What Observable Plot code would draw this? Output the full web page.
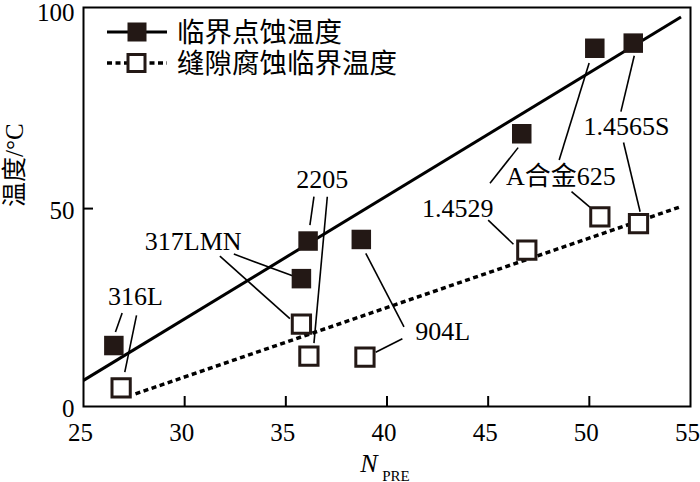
<!DOCTYPE html>
<html><head><meta charset="utf-8">
<script src="https://cdn.jsdelivr.net/npm/d3@7"></script>
<script src="https://cdn.jsdelivr.net/npm/@observablehq/plot@0.6"></script>
<style>body{margin:0;background:#fff} svg{display:block}</style>
</head><body><div id="chart"></div>
<script>
// ---- data ----
const alloys = ["316L","317LMN","2205","904L","1.4529","A合金625","1.4565S"];
const cptX = [26.5, 35.77, 36.1, 38.73, 46.66, 50.27, 52.17];
const cptY = [15.4, 32.3, 41.8, 42.2, 68.9, 90.5, 91.8];
const cctX = [26.86, 35.77, 36.14, 38.91, 46.91, 50.52, 52.43];
const cctY = [4.7, 20.8, 12.7, 12.5, 39.5, 47.9, 46.2];
const cptFitX = [25, 54.53];
const cptFitY = [6.6, 98.4];
const cctFitX = [27.57, 54.53];
const cctFitY = [3.2, 50.5];
const seriesNames = ["临界点蚀温度", "缝隙腐蚀临界温度"];
const labelX = [27.57, 30.42, 36.8, 42.75, 43.5, 48.59, 51.84];
const labelY = [27.7, 41.6, 57.2, 19.0, 50.0, 58.1, 70.7];
// leader lines: [x1, y1, x2, y2]
const leaderX1 = [26.91, 27.62, 32.43, 31.74, 36.39, 37.05, 40.76, 40.84, 45.09, 45.0, 48.51, 49.12, 51.56, 51.69];
const leaderY1 = [23.6, 23.0, 38.5, 38.0, 53.0, 53.0, 17.1, 20.1, 56.4, 47.1, 62.3, 54.3, 74.5, 66.7];
const leaderX2 = [26.58, 27.04, 35.4, 35.2, 36.19, 36.39, 39.44, 38.95, 46.48, 46.25, 49.99, 50.04, 52.22, 52.51];
const leaderY2 = [18.8, 8.7, 32.9, 22.2, 45.8, 16.0, 13.7, 38.7, 65.4, 41.0, 86.8, 50.3, 88.6, 49.2];
const xTickLabels = [25, 30, 35, 40, 45, 50, 55];
const xTickMarks = [30, 35, 40, 45, 50];
const yTickLabels = [0, 50, 100];
const yTickMarks = [50];
const yLabel = "温度/°C";
const xLabelMain = "N";
const xLabelSub = "PRE";

const pts = alloys.map((a, i) => ({a, x: cptX[i], y: cptY[i]}));
const opts = alloys.map((a, i) => ({a, x: cctX[i], y: cctY[i]}));
const labels = alloys.map((a, i) => ({a, x: labelX[i], y: labelY[i]}));
const leaders = leaderX1.map((d, i) => ({x1: d, y1: leaderY1[i], x2: leaderX2[i], y2: leaderY2[i]}));
const fit1 = cptFitX.map((x, i) => ({x, y: cptFitY[i]}));
const fit2 = cctFitX.map((x, i) => ({x, y: cctFitY[i]}));

const FONT = "'Liberation Serif', 'Noto Sans CJK SC', serif";
const INK = "#231815";
const DASH = "5,3.5";

const chart = Plot.plot({
  width: 700, height: 482,
  marginLeft: 83, marginRight: 10, marginTop: 7, marginBottom: 76,
  style: {fontFamily: FONT, fontSize: "25px", color: "black", background: "white"},
  x: {domain: [25, 55], axis: null},
  y: {domain: [0, 100.8], axis: null},
  marks: [
    Plot.axisX({ticks: xTickLabels, tickSize: 0, tickPadding: 17, dx: -3, fontSize: 25, label: null}),
    Plot.axisX({ticks: xTickMarks, tickSize: 10, dy: -10, strokeWidth: 2, tickFormat: () => "", label: null}),
    Plot.axisY({ticks: yTickLabels, tickSize: 0, tickPadding: 9, dy: 2, fontSize: 25, label: null}),
    Plot.axisY({ticks: yTickMarks, tickSize: 10, dx: 10, strokeWidth: 2, tickFormat: () => "", label: null}),
    Plot.frame({stroke: "black", strokeWidth: 2}),
    Plot.line(fit1, {x: "x", y: "y", stroke: "black", strokeWidth: 3, strokeLinecap: "butt"}),
    Plot.line(fit2, {x: "x", y: "y", stroke: "black", strokeWidth: 3.5, strokeDasharray: DASH, strokeLinecap: "butt"}),
    Plot.link(leaders, {x1: "x1", y1: "y1", x2: "x2", y2: "y2", stroke: "black", strokeWidth: 1.6}),
    Plot.dot(pts, {x: "x", y: "y", symbol: "square", r: 11, fill: INK, stroke: "none"}),
    Plot.dot(opts, {x: "x", y: "y", symbol: "square", r: 10.3, fill: "white", stroke: INK, strokeWidth: 3}),
    Plot.text(labels, {x: "x", y: "y", text: "a", fontSize: 26, fill: "black"}),
    Plot.text([yLabel], {frameAnchor: "left", dx: -69, rotate: -90, fontSize: 25, fill: "black"}),
    Plot.text([xLabelMain], {frameAnchor: "bottom", dx: -18, dy: 65, fontSize: 26, fontStyle: "italic", fill: "black"}),
    Plot.text([xLabelSub], {frameAnchor: "bottom", dx: 9, dy: 74, fontSize: 15, fill: "black"})
  ]
});
document.getElementById("chart").appendChild(chart);

// ---- legend (inside the frame, top-left) ----
const svg = d3.select(chart);
const lg = svg.append("g").attr("font-family", FONT).attr("text-anchor", "start");
const rows = [{y: 32, solid: true}, {y: 63, solid: false}];
rows.forEach((r, i) => {
  if (r.solid) {
    lg.append("line").attr("x1", 107).attr("x2", 167).attr("y1", r.y).attr("y2", r.y)
      .attr("stroke", "black").attr("stroke-width", 3);
    lg.append("rect").attr("x", 127.5).attr("y", r.y - 9.5).attr("width", 19).attr("height", 19).attr("fill", INK);
  } else {
    lg.append("line").attr("x1", 107).attr("x2", 167).attr("y1", r.y).attr("y2", r.y)
      .attr("stroke", "black").attr("stroke-width", 3.5).attr("stroke-dasharray", DASH);
    lg.append("rect").attr("x", 128).attr("y", r.y - 8.5).attr("width", 17).attr("height", 17)
      .attr("fill", "white").attr("stroke", INK).attr("stroke-width", 3);
  }
  lg.append("text").attr("x", 177).attr("y", r.y).attr("dy", "0.36em")
    .attr("font-size", 27.5).attr("fill", "black").text(seriesNames[i]);
});
</script>
</body></html>
